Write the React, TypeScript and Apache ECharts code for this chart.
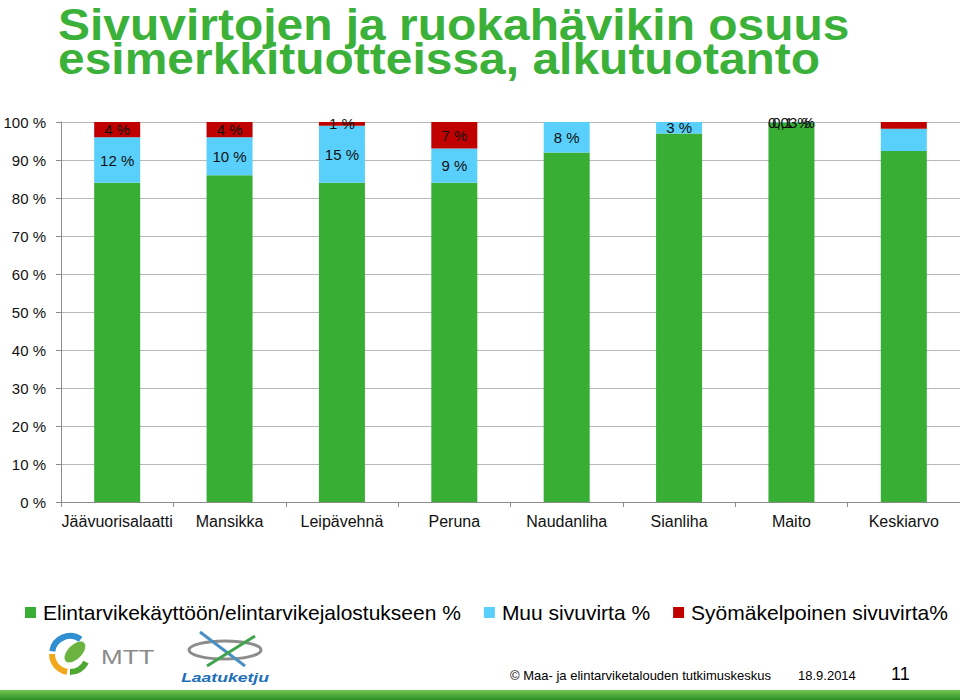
import React, { useEffect, useRef } from "react";
import * as echarts from "echarts";

const categories = [
  "Jäävuorisalaatti",
  "Mansikka",
  "Leipävehnä",
  "Peruna",
  "Naudanliha",
  "Sianliha",
  "Maito",
  "Keskiarvo",
];
const seriesNames = [
  "Elintarvikekäyttöön/elintarvikejalostukseen %",
  "Muu sivuvirta %",
  "Syömäkelpoinen sivuvirta%",
];
const foodUse = [84, 86, 84, 84, 92, 97, 99.87, 92.4];
const otherSide = [12, 10, 15, 9, 8, 3, 0.1, 5.8];
const edibleSide = [4, 4, 1, 7, 0, 0, 0.03, 1.8];
const showLabels = [true, true, true, true, true, true, true, false];
const yTicks = { min: 0, max: 100, interval: 10 };
const titleLines = ["Sivuvirtojen ja ruokahävikin osuus", "esimerkkituotteissa, alkutuotanto"];

const GREEN = "#38AE34";
const BLUE = "#59D0FB";
const RED = "#C00000";
const FONT = "'Liberation Sans', Arial, sans-serif";

const fmt = (v: number) => String(v).replace(".", ",") + " %";

export default function App() {
  const ref = useRef<HTMLDivElement>(null);
  useEffect(() => {
    document.body.style.margin = "0";
    const chart = echarts.init(ref.current!, null, { renderer: "svg" });
    const labelFormatter = (p: any) =>
      showLabels[p.dataIndex] && p.value > 0 ? fmt(p.value) : "";
    const dataLabel = {
      show: true,
      position: "inside" as const,
      color: "#111",
      fontFamily: FONT,
      fontSize: 15,
      formatter: labelFormatter,
    };
    const titleStyle = {
      fontFamily: FONT,
      fontSize: 44,
      lineHeight: 36,
      fontWeight: "bold",
      fill: "#3BB13A",
      verticalAlign: "middle",
    };
    chart.setOption({
      animation: false,
      backgroundColor: "#ffffff",
      textStyle: { fontFamily: FONT },
      legend: {
        left: 25,
        top: 602,
        padding: 0,
        width: 935,
        icon: "rect",
        itemWidth: 11,
        itemHeight: 11,
        itemGap: 23,
        textStyle: {
          fontFamily: FONT,
          fontSize: 21,
          color: "#000",
          padding: [0, 0, 0, 2],
        },
        data: seriesNames,
      },
      grid: { left: 61, top: 122, width: 909, height: 380, containLabel: false },
      xAxis: {
        type: "category",
        data: categories,
        axisLine: { lineStyle: { color: "#8c8c8c" } },
        axisTick: { show: true, length: 5, lineStyle: { color: "#8c8c8c" } },
        axisLabel: { color: "#111", fontSize: 16, fontFamily: FONT, margin: 11, interval: 0 },
      },
      yAxis: {
        type: "value",
        min: yTicks.min,
        max: yTicks.max,
        interval: yTicks.interval,
        axisLine: { show: true, lineStyle: { color: "#8c8c8c" } },
        axisTick: { show: true, length: 5, lineStyle: { color: "#8c8c8c" } },
        axisLabel: {
          color: "#111",
          fontSize: 15,
          fontFamily: FONT,
          margin: 15,
          formatter: "{value} %",
        },
        splitLine: { lineStyle: { color: "#b8b8b8", width: 1 } },
      },
      series: [
        {
          name: seriesNames[0],
          type: "bar",
          stack: "total",
          barWidth: 46,
          data: foodUse,
          itemStyle: { color: GREEN },
        },
        {
          name: seriesNames[1],
          type: "bar",
          stack: "total",
          barWidth: 46,
          data: otherSide,
          itemStyle: { color: BLUE },
          label: dataLabel,
        },
        {
          name: seriesNames[2],
          type: "bar",
          stack: "total",
          barWidth: 46,
          data: edibleSide,
          itemStyle: { color: RED },
          label: dataLabel,
        },
      ],
      graphic: [
        // title
        { type: "text", x: 58, y: 25, scaleX: 1.09, style: { ...titleStyle, text: titleLines[0] } },
        { type: "text", x: 58, y: 59, scaleX: 1.09, style: { ...titleStyle, text: titleLines[1] } },
        // MTT logo
        { type: "arc", shape: { cx: 70, cy: 654, r: 18, startAngle: -Math.PI * 0.95, endAngle: -Math.PI * 0.3 }, style: { stroke: "#2F8FD0", lineWidth: 6, fill: "none" } },
        { type: "arc", shape: { cx: 70, cy: 654, r: 18, startAngle: Math.PI * 0.55, endAngle: Math.PI * 1.0 }, style: { stroke: "#F2A81D", lineWidth: 6, fill: "none" } },
        { type: "arc", shape: { cx: 70, cy: 654, r: 18, startAngle: Math.PI * 0.15, endAngle: Math.PI * 0.5 }, style: { stroke: "#4DA832", lineWidth: 6, fill: "none" } },
        { type: "ellipse", shape: { cx: 75, cy: 652, rx: 13, ry: 7 }, rotation: Math.PI / 4, originX: 75, originY: 652, style: { fill: "#6DB33F" } },
        { type: "text", x: 101, y: 657, scaleX: 1.3, style: { text: "MTT", fontFamily: FONT, fontSize: 20, fill: "#8a8a8a", verticalAlign: "middle" } },
        // Laatuketju logo
        { type: "ellipse", shape: { cx: 225, cy: 650, rx: 36, ry: 9 }, style: { fill: "none", stroke: "#8c8c8c", lineWidth: 3 } },
        { type: "line", shape: { x1: 200, y1: 632, x2: 245, y2: 666 }, style: { stroke: "#4A8FC4", lineWidth: 3 } },
        { type: "line", shape: { x1: 255, y1: 636, x2: 207, y2: 666 }, style: { stroke: "#3FA34D", lineWidth: 3 } },
        { type: "text", x: 225, y: 677, scaleX: 1.35, style: { text: "Laatuketju", fontFamily: FONT, fontSize: 13, fontWeight: "bold", fontStyle: "italic", fill: "#1C6FB8", align: "center", verticalAlign: "middle" } },
        // footer
        { type: "text", x: 510, y: 675, style: { text: "© Maa- ja elintarviketalouden tutkimuskeskus", fontFamily: FONT, fontSize: 13, fill: "#000", verticalAlign: "middle" } },
        { type: "text", x: 798, y: 675, style: { text: "18.9.2014", fontFamily: FONT, fontSize: 13, fill: "#000", verticalAlign: "middle" } },
        { type: "text", x: 891, y: 674, style: { text: "11", fontFamily: FONT, fontSize: 18, fill: "#000", verticalAlign: "middle" } },
        {
          type: "rect",
          shape: { x: 0, y: 690, width: 960, height: 10 },
          style: {
            fill: new echarts.graphic.LinearGradient(0, 0, 0, 1, [
              { offset: 0, color: "#74C653" },
              { offset: 1, color: "#2E8E25" },
            ]),
          },
        },
      ],
    });
    return () => chart.dispose();
  }, []);
  return (
    <div
      ref={ref}
      style={{ position: "fixed", left: 0, top: 0, width: 960, height: 700 }}
    />
  );
}
